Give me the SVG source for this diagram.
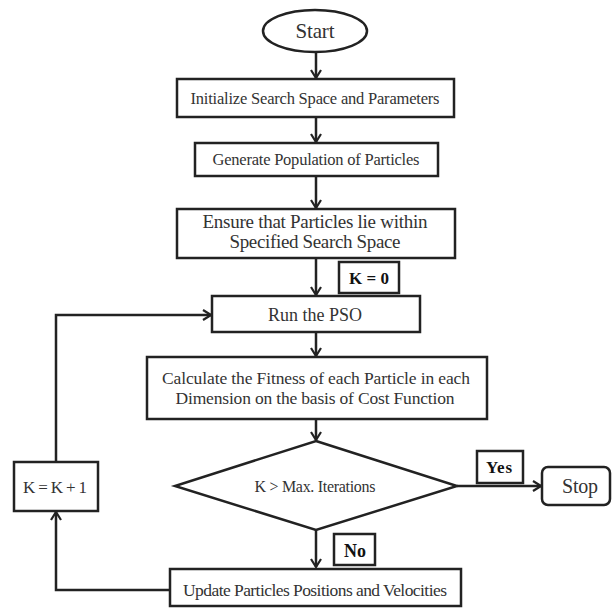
<svg xmlns="http://www.w3.org/2000/svg" width="613" height="611" viewBox="0 0 613 611">
<defs>
<style>
.s{fill:#fff;stroke:#222;stroke-width:2.5}
.t{font-family:"Liberation Serif","Times New Roman",serif;font-size:16.5px;fill:#333;text-anchor:middle}
.b{font-weight:bold;fill:#111;font-size:17px}
.c{fill:none;stroke:#222;stroke-width:2.5}
</style>
<marker id="ah" viewBox="0 0 10 12" refX="9" refY="6" markerWidth="10" markerHeight="12" markerUnits="userSpaceOnUse" orient="auto">
<path d="M1,1 L9,6 L1,11" fill="none" stroke="#222" stroke-width="2.2"/>
</marker>
</defs>
<rect width="613" height="611" fill="#fff"/>
<g id="connectors">
<path class="c" d="M316,52 V78" marker-end="url(#ah)"/>
<path class="c" d="M316,117 V142" marker-end="url(#ah)"/>
<path class="c" d="M316,176 V208" marker-end="url(#ah)"/>
<path class="c" d="M316,258 V295" marker-end="url(#ah)"/>
<path class="c" d="M316,332 V356" marker-end="url(#ah)"/>
<path class="c" d="M316,419 V440" marker-end="url(#ah)"/>
<path class="c" d="M316,530 V567" marker-end="url(#ah)"/>
<path class="c" d="M457,486 H541" marker-end="url(#ah)"/>
<path class="c" d="M170,590 H56 V512" marker-end="url(#ah)"/>
<path class="c" d="M56,462 V315 H211" marker-end="url(#ah)"/>
</g>
<g id="start">
<ellipse class="s" cx="315" cy="31" rx="52" ry="21"/>
<text class="t" x="315" y="38" style="font-size:21px" textLength="39">Start</text>
</g>
<g id="init">
<rect class="s" x="177" y="79" width="277" height="38"/>
<text class="t" x="315" y="104" textLength="249">Initialize  Search Space and Parameters</text>
</g>
<g id="generate">
<rect class="s" x="195" y="143" width="243" height="33"/>
<text class="t" x="316" y="165" textLength="207">Generate Population of Particles</text>
</g>
<g id="ensure">
<rect class="s" x="177" y="209" width="278" height="49"/>
<text class="t" x="315" y="228" style="font-size:19px" textLength="225">Ensure that Particles lie within</text>
<text class="t" x="315" y="248" style="font-size:19px" textLength="171">Specified Search Space</text>
</g>
<g id="k0">
<rect class="s" x="339" y="262" width="60" height="31"/>
<text class="t b" x="369" y="284" textLength="40">K = 0</text>
</g>
<g id="run">
<rect class="s" x="212" y="296" width="208" height="36"/>
<text class="t" x="315" y="321" style="font-size:18px" textLength="94">Run the PSO</text>
</g>
<g id="calc">
<rect class="s" x="147" y="357" width="340" height="62"/>
<text class="t" x="316" y="384" style="font-size:17.5px" textLength="308">Calculate the Fitness of each Particle in each</text>
<text class="t" x="315" y="404" style="font-size:17.5px" textLength="279">Dimension on the basis of Cost Function</text>
</g>
<g id="decision">
<polygon class="s" points="316,441 457,486 316,530 175,486"/>
<text class="t" x="315" y="492" style="font-size:16px" textLength="121">K  &gt; Max. Iterations</text>
</g>
<g id="yes">
<rect class="s" x="477" y="451" width="46" height="32"/>
<text class="t b" x="499" y="473" textLength="26">Yes</text>
</g>
<g id="stop">
<rect class="s" x="542" y="467" width="68" height="38" rx="6"/>
<text class="t" x="580" y="493" style="font-size:20px" textLength="36">Stop</text>
</g>
<g id="kinc">
<rect class="s" x="14" y="462" width="84" height="49"/>
<text class="t" x="55" y="493" style="font-size:17px" textLength="64">K = K + 1</text>
</g>
<g id="no">
<rect class="s" x="334" y="534" width="41" height="31"/>
<text class="t b" x="355" y="557" style="font-size:18px" textLength="22">No</text>
</g>
<g id="update">
<rect class="s" x="170" y="569" width="291" height="37"/>
<text class="t" x="315" y="596" style="font-size:17.5px" textLength="264">Update Particles Positions and Velocities</text>
</g>
</svg>
